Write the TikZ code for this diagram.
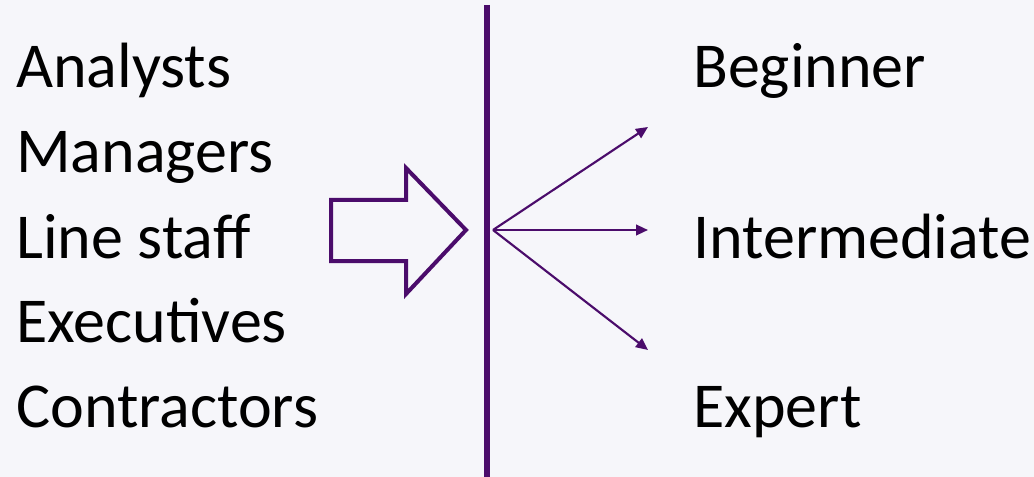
\documentclass[tikz,border=0pt]{standalone}
\usepackage{fontspec}
\setmainfont{Carlito}
\usetikzlibrary{arrows.meta}
\definecolor{bg}{HTML}{F6F6FA}
\definecolor{purp}{HTML}{4B0C6B}
\begin{document}
\begin{tikzpicture}[x=0.75pt,y=-0.75pt,
  lbl/.style={anchor=base west,inner sep=0pt,font=\fontsize{48}{58}\selectfont},
  fan/.style={purp,line width=1.6pt,-{Triangle[length=9pt,width=8pt]}}]
\fill[bg] (0,0) rectangle (1034,477);
\useasboundingbox (0,0) rectangle (1034,477);
\node[lbl] (a1) at (16,88) {Analysts};
\node[lbl] (a2) at (16,173) {Managers};
\node[lbl] (a3) at (16,258) {Line staff};
\node[lbl] (a4) at (16,342) {Executives};
\node[lbl] (a5) at (16,427) {Contractors};
\node[lbl] (b1) at (693,88) {Beginner};
\node[lbl] (b2) at (693,258) {Intermediate};
\node[lbl] (b3) at (693,427) {Expert};
\draw[purp,line width=3pt] (331,200) -- (406,200) -- (406,168) -- (466,230) -- (406,294) -- (406,261) -- (331,261) -- cycle;
\draw[purp,line width=4pt] (487,5) -- (487,477);
\coordinate (o) at (493,230);
\coordinate (e1) at (648,127);
\coordinate (e2) at (648,230);
\coordinate (e3) at (648,350);
\draw[fan] (o) -- (e1);
\draw[fan] (o) -- (e2);
\draw[fan] (o) -- (e3);
\end{tikzpicture}
\end{document}
